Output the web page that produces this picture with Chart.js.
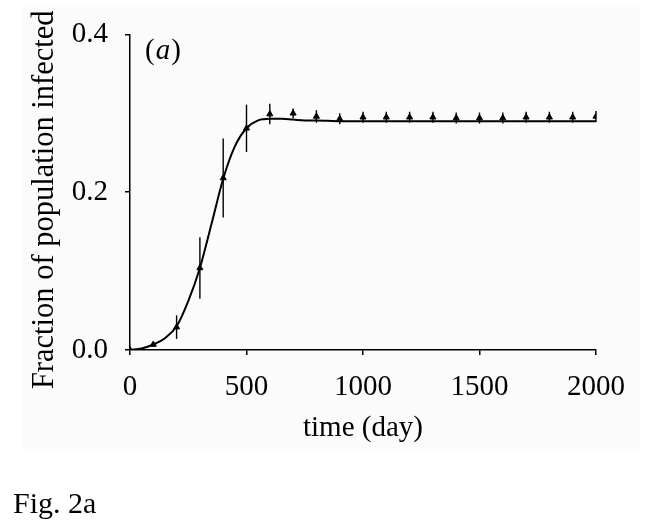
<!DOCTYPE html>
<html>
<head>
<meta charset="utf-8">
<script src="https://cdn.jsdelivr.net/npm/chart.js@4.4.0/dist/chart.umd.min.js"></script>
<style>
  body { margin: 0; background: #fff; }
  #wrap { width: 645px; height: 531px; position: relative; }
</style>
</head>
<body>
<div id="wrap"><canvas id="myChart" width="645" height="531"></canvas></div>
<script>
'use strict';
// simulation means (markers) with error bars, every 100 days
let days = [0, 100, 200, 300, 400, 500, 600, 700, 800, 900, 1000,
    1100, 1200, 1300, 1400, 1500, 1600, 1700, 1800, 1900, 2000];
let meanInfected = [0.000, 0.007, 0.029, 0.104, 0.218, 0.281, 0.299, 0.300, 0.296, 0.293, 0.295,
    0.295, 0.295, 0.295, 0.294, 0.294, 0.294, 0.295, 0.295, 0.295, 0.296];
let errInfected = [0.000, 0.003, 0.015, 0.039, 0.050, 0.030, 0.013, 0.006, 0.008, 0.007, 0.007,
    0.007, 0.007, 0.007, 0.007, 0.007, 0.007, 0.007, 0.007, 0.007, 0.007];
// model curve
let curveDays = [0, 50, 100, 150, 200, 250, 300, 350, 400, 450, 500, 550, 600, 650, 700, 750, 800,
    900, 1000, 1200, 1400, 1600, 1800, 2000];
let curveInfected = [0.000, 0.002, 0.007, 0.015, 0.030, 0.062, 0.104, 0.160, 0.217, 0.258, 0.281, 0.291,
    0.293, 0.293, 0.292, 0.291, 0.291, 0.290, 0.290, 0.290, 0.290, 0.290, 0.290, 0.290];
let xTicks = [0, 500, 1000, 1500, 2000];
let yTicks = [0, 0.2, 0.4];

let serif = '"Liberation Serif", "Times New Roman", serif';

function toPoints(xs, ys) {
    let pts = [];
    for (let i = 0; i < xs.length; i++) {
        pts.push({ x: xs[i], y: ys[i] });
    }
    return pts;
}

// light backdrop and extra labels
let decor = {
    id: 'decor',
    beforeDraw(chart) {
        let ctx = chart.ctx;
        ctx.save();
        ctx.fillStyle = '#fbfbfb';
        ctx.fillRect(22, 7, 618, 442);
        ctx.restore();
    },
    afterDraw(chart) {
        let ctx = chart.ctx;
        ctx.save();
        ctx.fillStyle = '#000';
        ctx.textBaseline = 'alphabetic';
        ctx.font = '29px ' + serif;
        let x = 145;
        ctx.fillText('(', x, 59);
        x += ctx.measureText('(').width + 1;
        ctx.font = 'italic 29px ' + serif;
        ctx.fillText('a', x, 59);
        x += ctx.measureText('a').width + 1;
        ctx.font = '29px ' + serif;
        ctx.fillText(')', x, 59);
        ctx.font = '30px ' + serif;
        ctx.fillText('Fig. 2a', 13, 513);
        ctx.restore();
    }
};

// vertical error bars through the scales
let errorBars = {
    id: 'errorBars',
    afterDatasetsDraw(chart) {
        let ctx = chart.ctx;
        let xs = chart.scales.x;
        let ys = chart.scales.y;
        ctx.save();
        ctx.strokeStyle = '#000';
        ctx.lineWidth = 1.4;
        for (let i = 0; i < days.length; i++) {
            let px = xs.getPixelForValue(days[i]);
            ctx.beginPath();
            ctx.moveTo(px, ys.getPixelForValue(meanInfected[i] - errInfected[i]));
            ctx.lineTo(px, ys.getPixelForValue(meanInfected[i] + errInfected[i]));
            ctx.stroke();
        }
        ctx.restore();
    }
};

let ctx = document.getElementById('myChart').getContext('2d');
let myChart = new Chart(ctx, {
    type: 'line',
    data: {
        datasets: [{
            label: 'model',
            data: toPoints(curveDays, curveInfected),
            borderColor: '#000',
            borderWidth: 2,
            pointRadius: 0,
            cubicInterpolationMode: 'monotone',
            fill: false
        }, {
            label: 'simulation',
            data: toPoints(days, meanInfected),
            showLine: false,
            pointStyle: 'triangle',
            pointRadius: 3.5,
            backgroundColor: '#000',
            borderColor: '#000',
            borderWidth: 1
        }]
    },
    options: {
        responsive: false,
        animation: false,
        layout: { padding: { left: 0, right: 49, top: 34, bottom: 81 } },
        plugins: {
            legend: { display: false },
            tooltip: { enabled: false }
        },
        scales: {
            x: {
                type: 'linear',
                min: 0,
                max: 2000,
                afterBuildTicks: function (axis) {
                    axis.ticks = xTicks.map(function (v) { return { value: v }; });
                },
                afterFit: function (axis) { axis.height = 100; },
                grid: { drawOnChartArea: false, drawTicks: true, tickLength: 5, color: '#000', lineWidth: 1.5 },
                border: { color: '#000', width: 1.5 },
                ticks: {
                    color: '#000',
                    padding: 15,
                    maxRotation: 0,
                    font: { family: serif, size: 29 },
                    callback: function (v) { return String(v); }
                },
                title: {
                    display: true,
                    text: 'time (day)',
                    color: '#000',
                    padding: { top: 0, bottom: 4 },
                    font: { family: serif, size: 29 }
                }
            },
            y: {
                min: 0,
                max: 0.4,
                afterBuildTicks: function (axis) {
                    axis.ticks = yTicks.map(function (v) { return { value: v }; });
                },
                afterFit: function (axis) { axis.width = 130; },
                grid: { drawOnChartArea: false, drawTicks: true, tickLength: 5, color: '#000', lineWidth: 1.5 },
                border: { color: '#000', width: 1.5 },
                ticks: {
                    color: '#000',
                    padding: 17,
                    font: { family: serif, size: 29 },
                    callback: function (v) { return v.toFixed(1); }
                },
                title: {
                    display: true,
                    text: 'Fraction of population infected  ',
                    color: '#000',
                    padding: { top: 27, bottom: 0 },
                    font: { family: serif, size: 30.5 }
                }
            }
        }
    },
    plugins: [decor, errorBars]
});
</script>
</body>
</html>
